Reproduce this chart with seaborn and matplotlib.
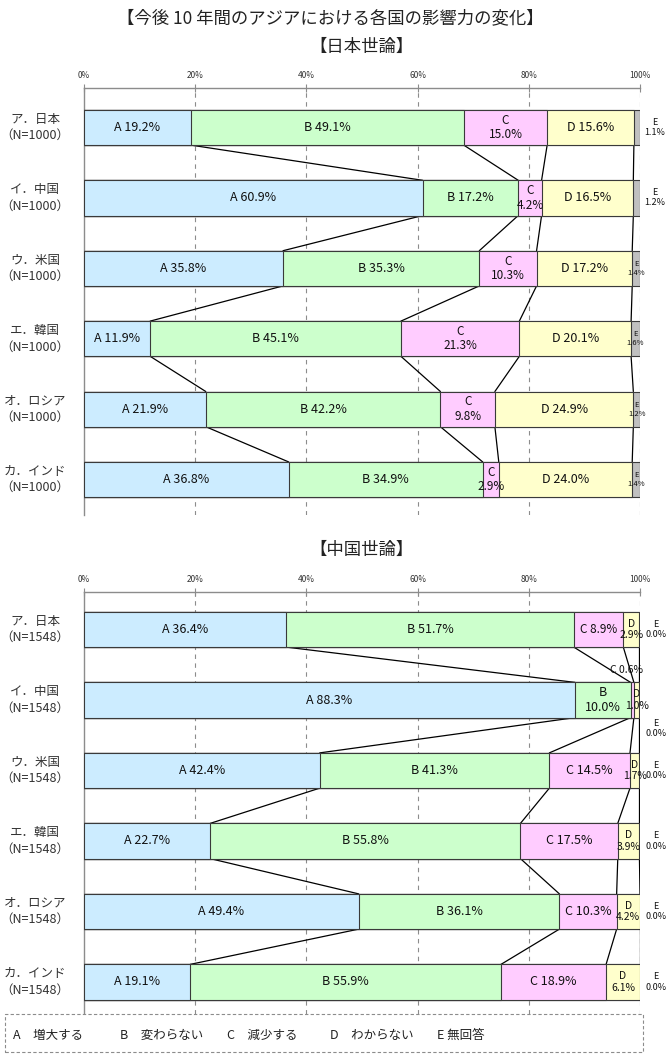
import pandas as pd
import seaborn as sns
import matplotlib.pyplot as plt
from matplotlib.patches import Rectangle

# =========================================================
# DATA
# =========================================================

countries = ["ア．日本", "イ．中国", "ウ．米国", "エ．韓国", "オ．ロシア", "カ．インド"]
answers = ["A", "B", "C", "D", "E"]

# Japanese public opinion (N=1000)
jp_n = 1000
jp_a = [19.2, 60.9, 35.8, 11.9, 21.9, 36.8]
jp_b = [49.1, 17.2, 35.3, 45.1, 42.2, 34.9]
jp_c = [15.0, 4.2, 10.3, 21.3, 9.8, 2.9]
jp_d = [15.6, 16.5, 17.2, 20.1, 24.9, 24.0]
jp_e = [1.1, 1.2, 1.4, 1.6, 1.2, 1.4]

# Chinese public opinion (N=1548)
cn_n = 1548
cn_a = [36.4, 88.3, 42.4, 22.7, 49.4, 19.1]
cn_b = [51.7, 10.0, 41.3, 55.8, 36.1, 55.9]
cn_c = [8.9, 0.6, 14.5, 17.5, 10.3, 18.9]
cn_d = [2.9, 1.0, 1.7, 3.9, 4.2, 6.1]
cn_e = [0.0, 0.0, 0.0, 0.0, 0.0, 0.0]

legend_labels = ["A　増大する", "B　変わらない", "C　減少する", "D　わからない", "E 無回答"]
ticks = [0, 20, 40, 60, 80, 100]

# =========================================================
# SETTINGS
# =========================================================

sns.set_theme(style="white")
plt.rcParams["font.family"] = ["Noto Sans CJK JP", "DejaVu Sans"]

colors = {
    "A": "#CCECFF",
    "B": "#CCFFCC",
    "C": "#FFCCFF",
    "D": "#FFFFCC",
    "E": "#C0C0C0",
}
edge = "#3a3a3a"
axis_gray = "#8c8c8c"
W, H = 670, 1055

fig = plt.figure(figsize=(W / 100, H / 100), dpi=100)


def axes_px(top, bottom, left=84, right=640):
    return fig.add_axes([left / W, 1 - bottom / H, (right - left) / W, (bottom - top) / H])


def draw_chart(ax, series, n, ylim):
    df = pd.DataFrame(dict(zip(answers, series)))
    df["country"] = countries
    cum = df[answers].cumsum(axis=1)
    for k in reversed(answers):
        sns.barplot(
            x=cum[k], y=df["country"], order=countries, orient="h",
            color=colors[k], saturation=1, width=0.5,
            edgecolor=edge, linewidth=0.8, errorbar=None, ax=ax, zorder=3
        )
    # series lines between bars
    for i in range(len(countries) - 1):
        for k in answers[:-1]:
            ax.plot([cum[k][i], cum[k][i + 1]], [i + 0.25, i + 0.75],
                    color="black", lw=0.9, zorder=2)

    ax.set_xlim(0, 100)
    ax.set_ylim(*ylim)
    ax.set_xlabel("")
    ax.set_ylabel("")
    ax.set_yticks(range(len(countries)))
    ax.set_yticklabels([])
    ax.xaxis.tick_top()
    ax.set_xticks(ticks)
    ax.set_xticklabels([f"{t}%" for t in ticks], fontsize=6, color="#333333")
    ax.tick_params(axis="x", direction="inout", length=6, width=0.8,
                   color=axis_gray, pad=3)
    ax.tick_params(axis="y", left=False)
    for t in ticks[1:]:
        ax.axvline(t, color=axis_gray, lw=0.8, ls=(0, (4, 4)), zorder=1)
    for s in ["right", "bottom"]:
        ax.spines[s].set_visible(False)
    for s in ["left", "top"]:
        ax.spines[s].set_color(axis_gray)
        ax.spines[s].set_linewidth(1.0)

    lab_tr = ax.get_yaxis_transform()
    for i, c in enumerate(countries):
        ax.text(-0.088, i, f"{c}\n（N={n}）", transform=lab_tr, ha="center",
                va="center", fontsize=9, color="#333333", linespacing=1.35)
    return df, cum


def seg(ax, x, y, text, size=9):
    ax.text(x, y, text, ha="center", va="center", fontsize=size,
            linespacing=1.15, color="#111111", zorder=5)


# =========================================================
# TITLES
# =========================================================

fig.text(330 / W, 1 - 18 / H, "【今後 10 年間のアジアにおける各国の影響力の変化】",
         ha="center", va="center", fontsize=12.5, color="#222222")
fig.text(362 / W, 1 - 47 / H, "【日本世論】", ha="center", va="center",
         fontsize=12.5, color="#222222")
fig.text(362 / W, 1 - 550 / H, "【中国世論】", ha="center", va="center",
         fontsize=12.5, color="#222222")

# =========================================================
# JAPANESE OPINION
# =========================================================

ax1 = axes_px(88, 515)
df1, cum1 = draw_chart(ax1, [jp_a, jp_b, jp_c, jp_d, jp_e], jp_n, (5.504, -0.561))

for i in range(len(countries)):
    for k in answers:
        v = df1[k][i]
        mid = cum1[k][i] - v / 2
        if k == "C":
            seg(ax1, mid, i, f"C\n{v:.1f}%", 8.5)
        elif k == "E":
            if i < 2:
                seg(ax1, 102.7, i, f"E\n{v:.1f}%", 6.5)
            else:
                seg(ax1, mid, i, f"E\n{v:.1f}%", 5.5)
        else:
            seg(ax1, mid, i, f"{k} {v:.1f}%", 9)

# =========================================================
# CHINESE OPINION
# =========================================================

ax2 = axes_px(592, 1014)
df2, cum2 = draw_chart(ax2, [cn_a, cn_b, cn_c, cn_d, cn_e], cn_n, (5.454, -0.532))

for i in range(len(countries)):
    for k in answers:
        v = df2[k][i]
        mid = cum2[k][i] - v / 2
        if k == "E":
            y = i + 0.4 if i == 1 else i
            seg(ax2, 102.9, y, f"E\n{v:.1f}%", 6.5)
        elif k == "D":
            seg(ax2, mid, i, f"D\n{v:.1f}%", 7.5)
        elif k == "C" and v < 5:
            seg(ax2, 97.6, i - 0.43, f"C {v:.1f}%", 7.5)
        elif k == "B" and v < 15:
            seg(ax2, mid, i, f"B\n{v:.1f}%", 9)
        elif k == "C":
            seg(ax2, mid, i, f"C {v:.1f}%", 8.5 if v < 10 else 9)
        else:
            seg(ax2, mid, i, f"{k} {v:.1f}%", 9)

# =========================================================
# LEGEND BOX
# =========================================================

fig.patches.append(Rectangle((5 / W, 1 - 1052 / H), 638 / W, 38 / H,
                             transform=fig.transFigure, fill=True,
                             facecolor="white", edgecolor=axis_gray,
                             lw=0.8, ls=(0, (3, 2)), zorder=10))
for lab, xp in zip(legend_labels, [13, 120, 227, 330, 437]):
    fig.text(xp / W, 1 - 1035 / H, lab, ha="left", va="center",
             fontsize=9, color="#222222", zorder=11)

plt.savefig("out.png", dpi=100)
